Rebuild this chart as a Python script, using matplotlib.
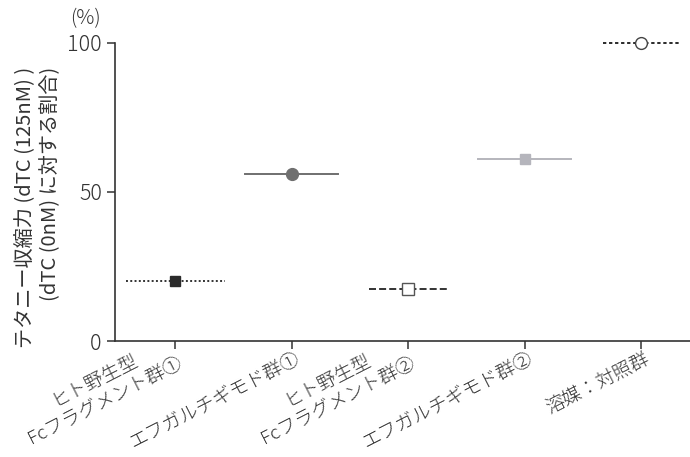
import matplotlib
matplotlib.use("Agg")
import matplotlib.pyplot as plt
from matplotlib.transforms import ScaledTranslation

plt.rcParams['font.family'] = ['Noto Sans CJK JP', 'DejaVu Sans']
plt.rcParams['font.weight'] = 300

# data
groups = ["ヒト野生型\nFcフラグメント群①", "エフガルチギモド群①",
          "ヒト野生型\nFcフラグメント群②", "エフガルチギモド群②", "溶媒：対照群"]
values = [20, 56, 17.5, 61, 100]
half_widths = [0.425, 0.4, 0.335, 0.4, 0.325]
yticks = [0, 50, 100]

# styles for each group
line_styles = [(0, (1, 1.2)), '-', (0, (3.6, 1.6)), '-', (0, (1.7, 1.4))]
line_colors = ['#333333', '#6f6f6f', '#333333', '#b5b5bc', '#2a2a2a']
markers = ['s', 'o', 's', 's', 'o']
marker_faces = ['#2b2b2b', '#6f6f6f', 'white', '#b5b5bc', 'white']
marker_edges = ['#2b2b2b', '#6f6f6f', '#555555', '#b5b5bc', '#444444']
marker_sizes = [7.5, 8.5, 8, 7.5, 8.5]

text_color = '#333333'

fig = plt.figure(figsize=(6.9, 4.57), dpi=100)
ax = fig.add_axes([0.1667, 0.2538, 0.8333, 0.6522])

xs = list(range(1, len(groups) + 1))
for i, x in enumerate(xs):
    ax.plot([x - half_widths[i], x + half_widths[i]], [values[i], values[i]],
            linestyle=line_styles[i], color=line_colors[i], lw=1.4, zorder=2,
            clip_on=False)
    ax.plot([x], [values[i]], marker=markers[i], ms=marker_sizes[i],
            mfc=marker_faces[i], mec=marker_edges[i], mew=1.0,
            linestyle='none', zorder=3, clip_on=False)

ax.set_xlim(0.485, 5.42)
ax.set_ylim(0, 100)
ax.set_yticks(yticks)
ax.set_xticks(xs)
ax.tick_params(axis='y', labelsize=15.5, labelcolor=text_color, length=5.5,
               width=1.1, color=text_color, pad=4)
ax.tick_params(axis='x', length=5.5, width=1.1, color=text_color, pad=1)
ax.set_xticklabels(groups, rotation=27, ha='right', va='top',
                   rotation_mode='anchor', multialignment='center',
                   fontsize=13.6, color=text_color, linespacing=1.43)

# shift labels so the last character sits under the tick
for lab in ax.get_xticklabels():
    dx, dy = 2.5 / 72, 0
    if "\n" in lab.get_text():
        dx += -8.8 / 72
        dy += 12.1 / 72
    lab.set_transform(lab.get_transform() + ScaledTranslation(dx, dy, fig.dpi_scale_trans))

for side in ['top', 'right']:
    ax.spines[side].set_visible(False)
for side in ['left', 'bottom']:
    ax.spines[side].set_color(text_color)
    ax.spines[side].set_linewidth(1.2)

ax.set_ylabel("テタニー収縮力 (dTC (125nM) )\n(dTC (0nM) に対する割合)",
              fontsize=14.5, color=text_color, multialignment='right',
              linespacing=1.25)
ax.yaxis.set_label_coords(-0.094, 0.45)
ax.text(-0.052, 1.083, "(%)", transform=ax.transAxes, fontsize=14.5,
        color=text_color, ha='center', va='center')

fig.savefig("out.png", dpi=100)
